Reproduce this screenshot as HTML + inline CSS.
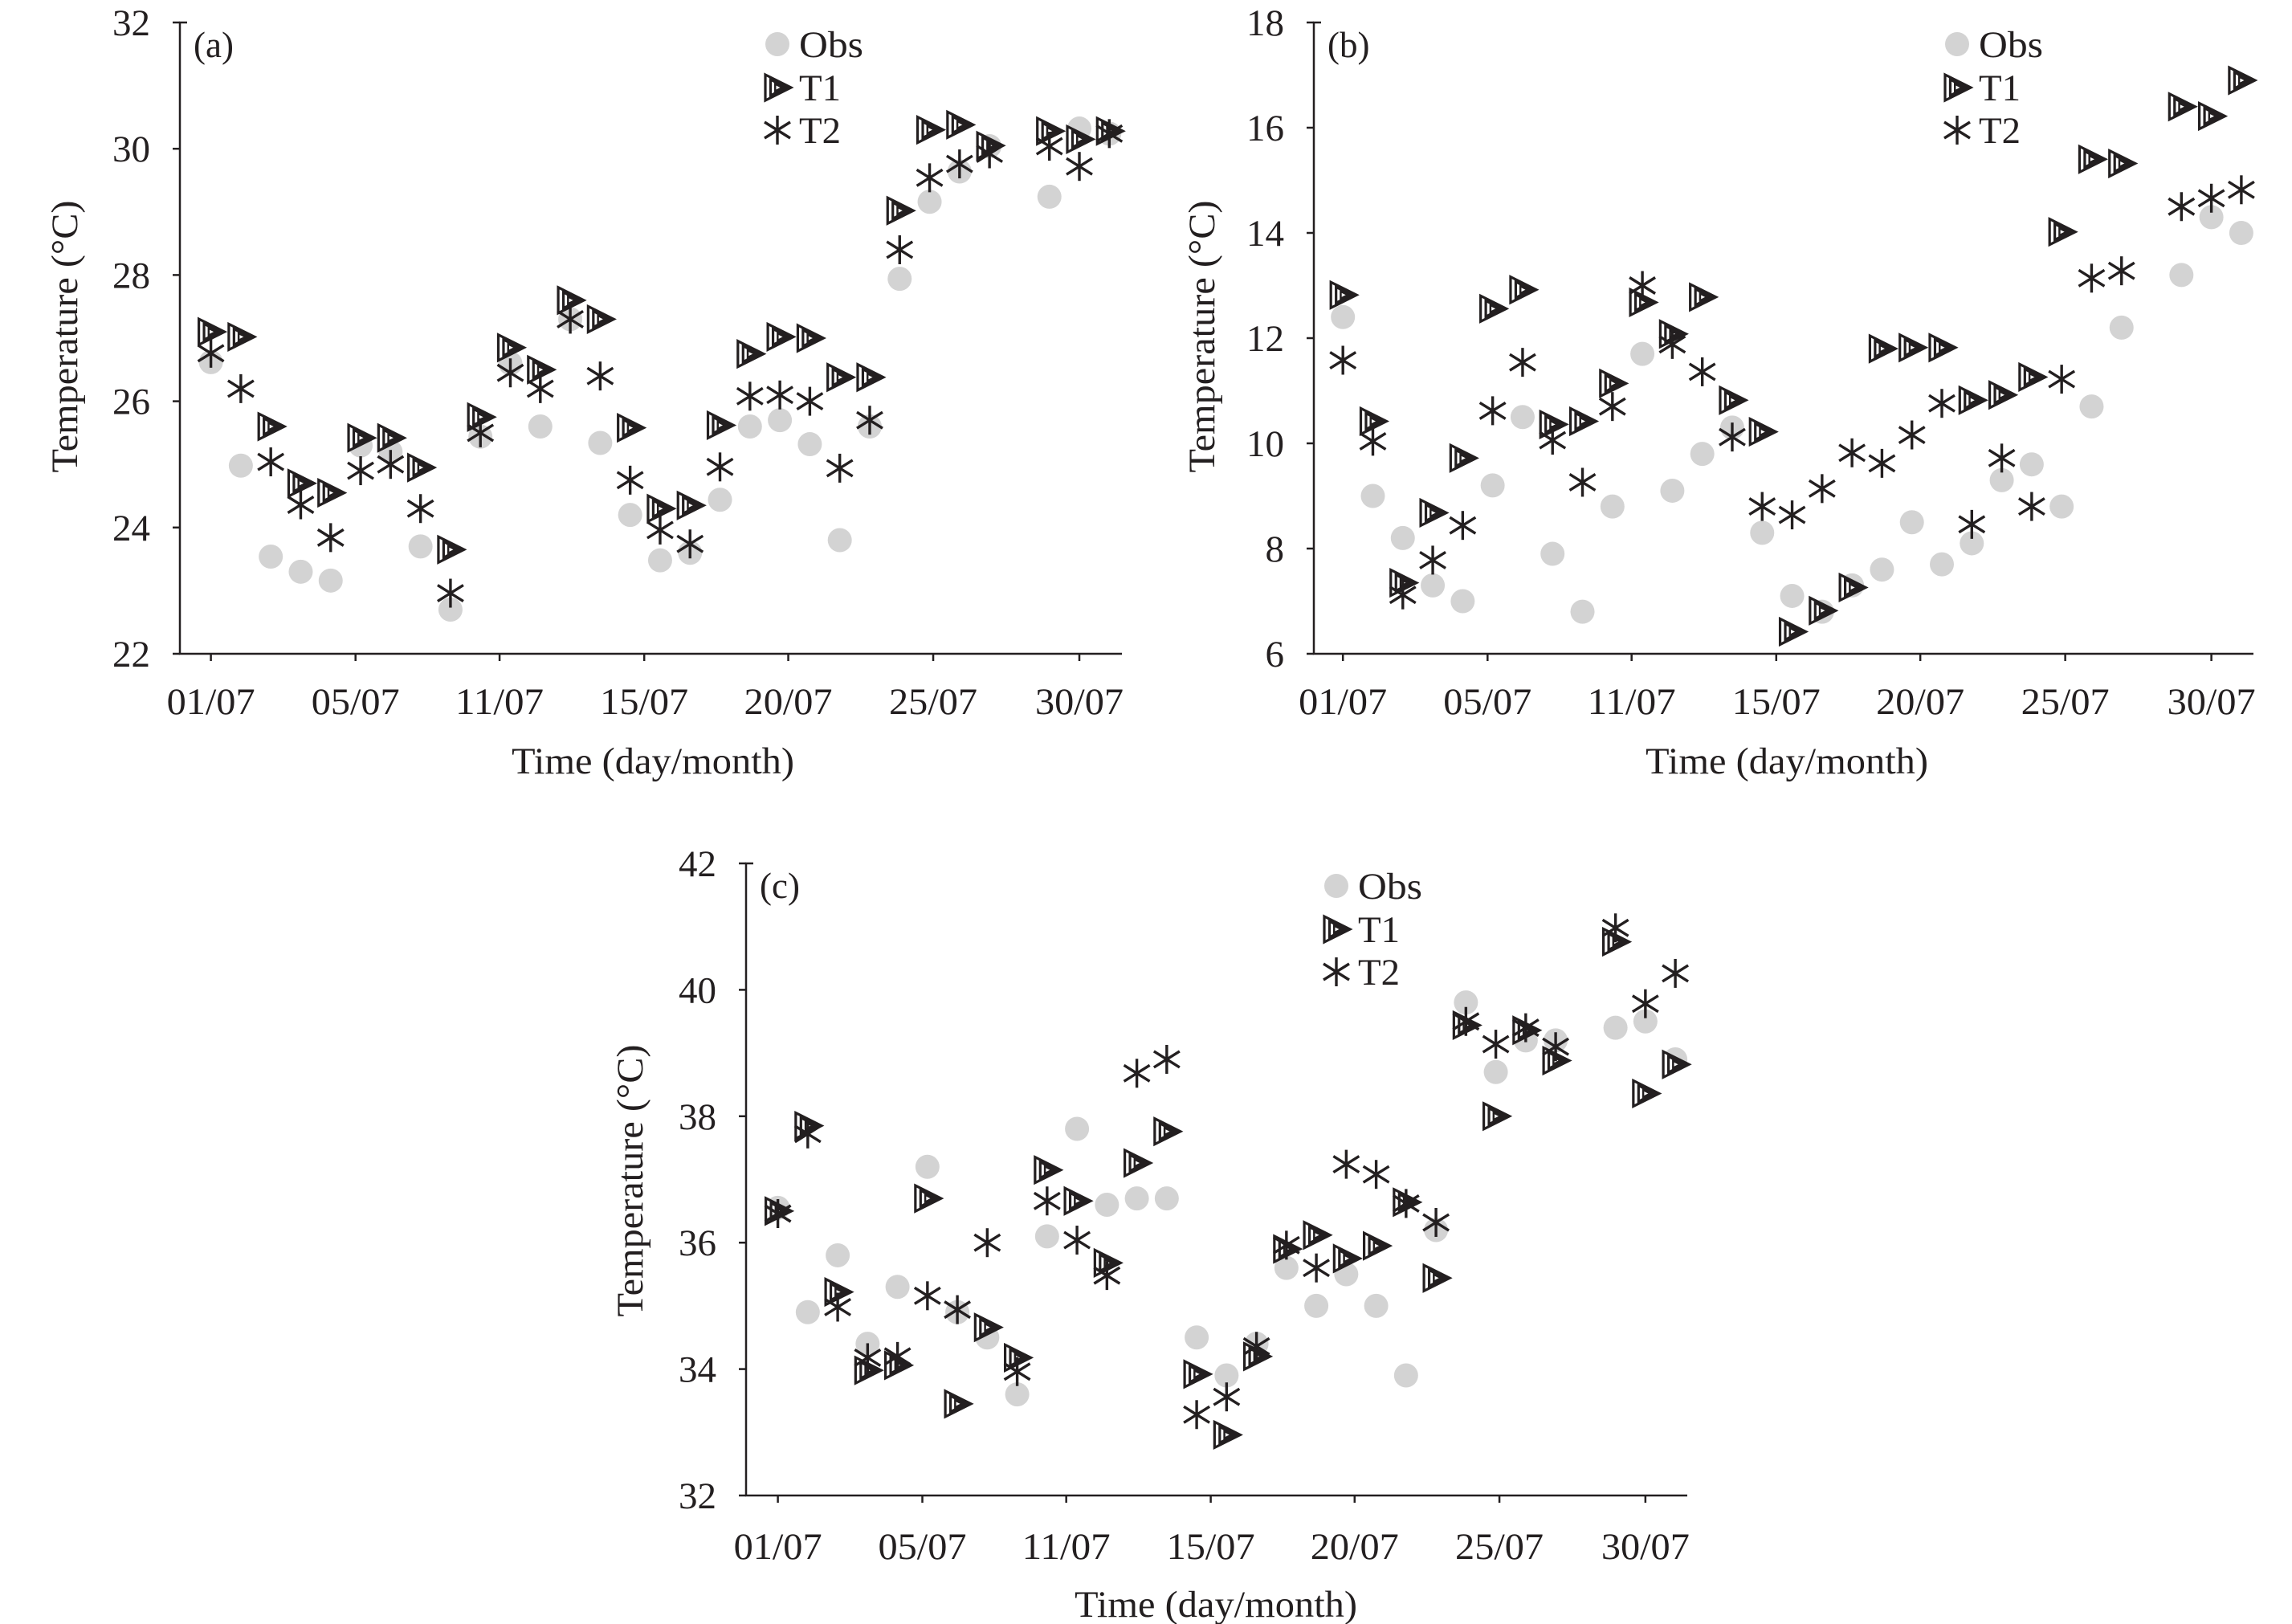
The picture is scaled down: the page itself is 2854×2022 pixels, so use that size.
<!DOCTYPE html>
<html><head><meta charset="utf-8">
<style>
html,body{margin:0;padding:0;background:#fff;}
svg{display:block;}
text{font-family:"Liberation Serif",serif;fill:#231f20;}
</style></head>
<body>
<svg id="chart" width="2854" height="2022" viewBox="0 0 2854 2022" xmlns="http://www.w3.org/2000/svg"></svg>
<script>
// ---- Data (index = day of July - 1; null = missing) ----
const tickLabels = ["01/07","05/07","11/07","15/07","20/07","25/07","30/07"];
const tickIdx = [0,4.83,9.64,14.47,19.28,24.12,29];
const seriesNames = ["Obs","T1","T2"];

const aYTicks = [22,24,26,28,30,32];
const aObs = [26.62,24.98,23.54,23.30,23.16,25.3,25.2,23.70,22.70,25.44,26.6,25.6,27.3,25.34,24.2,23.48,23.6,24.44,25.6,25.7,25.32,23.8,25.6,27.94,29.16,29.64,30.04,null,29.24,30.32,30.24];
const aT1 = [27.1,27.02,25.6,24.7,24.55,25.42,25.42,24.95,23.65,25.75,26.85,26.5,27.6,27.3,25.58,24.3,24.35,25.62,26.75,27.02,27.0,26.38,26.38,29.02,30.3,30.38,30.05,null,30.28,30.15,30.28];
const aT2 = [26.76,26.2,25.04,24.36,23.84,24.9,25.0,24.3,22.96,25.5,26.45,26.2,27.3,26.4,24.75,23.96,23.74,24.96,26.08,26.1,26.0,24.94,25.7,28.4,29.54,29.76,29.92,null,30.04,29.72,30.24];

const bYTicks = [6,8,10,12,14,16,18];
const bObs = [12.4,9.0,8.2,7.3,7.0,9.2,10.5,7.9,6.8,8.8,11.7,9.1,9.8,10.3,8.3,7.1,6.8,7.3,7.6,8.5,7.7,8.1,9.3,9.6,8.8,10.7,12.2,null,13.2,14.3,14.0];
const bT1 = [12.82,10.42,7.35,8.68,9.72,12.56,12.92,10.36,10.42,11.14,12.68,12.08,12.78,10.82,10.22,6.42,6.82,7.26,11.8,11.82,11.82,10.82,10.92,11.26,14.02,15.4,15.32,null,16.4,16.22,16.9];
const bT2 = [11.58,10.04,7.12,7.78,8.44,10.62,11.54,10.06,9.26,10.7,13.0,11.88,11.36,10.12,8.8,8.64,9.14,9.82,9.62,10.16,10.76,8.46,9.72,8.8,11.22,13.14,13.28,null,14.5,14.66,14.82];

const cYTicks = [32,34,36,38,40,42];
const cObs = [36.55,34.9,35.8,34.4,35.3,37.2,34.9,34.5,33.6,36.1,37.8,36.6,36.7,36.7,34.5,33.9,34.4,35.6,35.0,35.5,35.0,33.9,36.2,39.8,38.7,39.2,39.2,null,39.4,39.5,38.9];
const cT1 = [36.5,37.85,35.22,33.98,34.06,36.7,33.45,34.66,34.18,37.15,36.66,35.68,37.26,37.76,33.92,32.96,34.2,35.9,36.12,35.75,35.95,36.64,35.44,39.44,38.0,39.36,38.88,null,40.76,38.36,38.82];
const cT2 = [36.46,37.72,34.98,34.18,34.2,35.16,34.94,36.0,33.96,36.66,36.04,35.48,38.68,38.9,33.28,33.56,34.36,35.96,35.6,37.24,37.08,36.62,36.32,39.5,39.14,39.4,39.1,null,40.98,39.78,40.26];

const NS = "http://www.w3.org/2000/svg";
const svg = document.getElementById("chart");
function mk(tag, attrs, parent){
  const e = document.createElementNS(NS, tag);
  for (const k in attrs) e.setAttribute(k, attrs[k]);
  (parent||svg).appendChild(e);
  return e;
}
function circleMark(g,x,y){
  const c = mk("circle",{cx:x,cy:y,r:15,fill:"#d3d3d3"},g);
  
  
  return c;
}
function triMark(g,x,y){
  const t = mk("g",{},g);
  
  
  [1,0.62,0.28].forEach((s,i)=>{
    const pts = [[-15,-16],[17,0],[-15,16]].map(p=>(x+p[0]*s+(1-s)*2)+","+(y+p[1]*s)).join(" ");
    mk("polygon",{points:pts,fill:i==0?"#fff":"none",stroke:"#231f20","stroke-width":i==2?2.5:3.2},t);
  });
  return t;
}
function starMark(g,x,y){
  const t = mk("g",{stroke:"#231f20","stroke-width":3.4},g);
  
  
  mk("line",{x1:x,y1:y-18,x2:x,y2:y+18},t);
  mk("line",{x1:x-16,y1:y-10,x2:x+16,y2:y+10},t);
  mk("line",{x1:x-16,y1:y+10,x2:x+16,y2:y-10},t);
  return t;
}

function panel(cfg, yTicks, obs, t1, t2){
  const g = mk("g",{});
  
  
  const yMin = yTicks[0], yMax = yTicks[yTicks.length-1];
  const yS = v => cfg.bottom - (v - yMin) / (yMax - yMin) * (cfg.bottom - cfg.top);
  const xS = i => cfg.x0 + i * cfg.dx;
  const ax = mk("path",{d:`M${cfg.left+9},${cfg.top} H${cfg.left} V${cfg.bottom} H${cfg.right}`,fill:"none",stroke:"#231f20","stroke-width":2.5},g);
  
  
  yTicks.forEach(v=>{
    const y = yS(v);
    mk("line",{x1:cfg.left-9,y1:y,x2:cfg.left,y2:y,stroke:"#231f20","stroke-width":2.5},g);
    const t = mk("text",{x:cfg.left-37,y:y+16,"text-anchor":"end","font-size":47},g);
    t.textContent = v;
    
    
  });
  tickIdx.forEach((ti,k)=>{
    const x = xS(ti);
    mk("line",{x1:x,y1:cfg.bottom,x2:x,y2:cfg.bottom+9,stroke:"#231f20","stroke-width":2.5},g);
    const t = mk("text",{x:x,y:cfg.tickY+16,"text-anchor":"middle","font-size":47,textLength:110,lengthAdjust:"spacingAndGlyphs"},g);
    t.textContent = tickLabels[k];
    
    
  });
  const xt = mk("text",{x:cfg.xtX,y:cfg.xtY+16,"text-anchor":"middle","font-size":47,textLength:352,lengthAdjust:"spacingAndGlyphs"},g);
  xt.textContent = "Time (day/month)";
  
  
  const yt = mk("text",{x:0,y:0,"text-anchor":"middle","font-size":47,textLength:339,lengthAdjust:"spacingAndGlyphs",transform:`translate(${cfg.ytX+16},${cfg.ytY}) rotate(-90)`},g);
  yt.textContent = "Temperature (°C)";
  
  
  const pl = mk("text",{x:cfg.left+17,y:cfg.labY+15,"font-size":45},g);
  pl.textContent = "(" + cfg.tag + ")";
  
  
  const lg = mk("g",{},g);
  
  
  const lx = cfg.legX, ly = [cfg.legY, cfg.legY+54, cfg.legY+107];
  circleMark(lg,lx,ly[0]); triMark(lg,lx,ly[1]); starMark(lg,lx,ly[2]);
  seriesNames.forEach((n,k)=>{
    const t = mk("text",{x:lx+27,y:ly[k]+16,"font-size":47,textLength:n=="Obs"?80:52,lengthAdjust:"spacingAndGlyphs"},lg);
    t.textContent = n;
    
    
  });
  obs.forEach((v,i)=>{ if(v!==null) circleMark(g,xS(i),yS(v)); });
  t1.forEach((v,i)=>{ if(v!==null) triMark(g,xS(i),yS(v)); });
  t2.forEach((v,i)=>{ if(v!==null) starMark(g,xS(i),yS(v)); });
}

panel({tag:"a",left:224,top:28,bottom:814,right:1397,x0:262.6,dx:37.29,tickY:873,xtX:813,xtY:947,ytX:80,ytY:419,labY:56,legX:968,legY:55}, aYTicks, aObs, aT1, aT2);
panel({tag:"b",left:1636,top:28,bottom:814,right:2806,x0:1672.2,dx:37.29,tickY:873,xtX:2225,xtY:947,ytX:1496,ytY:419,labY:56,legX:2437,legY:55}, bYTicks, bObs, bT1, bT2);
panel({tag:"c",left:929,top:1075,bottom:1862,right:2101,x0:968.6,dx:37.25,tickY:1925,xtX:1514,xtY:1997,ytX:784,ytY:1470,labY:1103,legX:1664,legY:1103}, cYTicks, cObs, cT1, cT2);
</script>
</body></html>
